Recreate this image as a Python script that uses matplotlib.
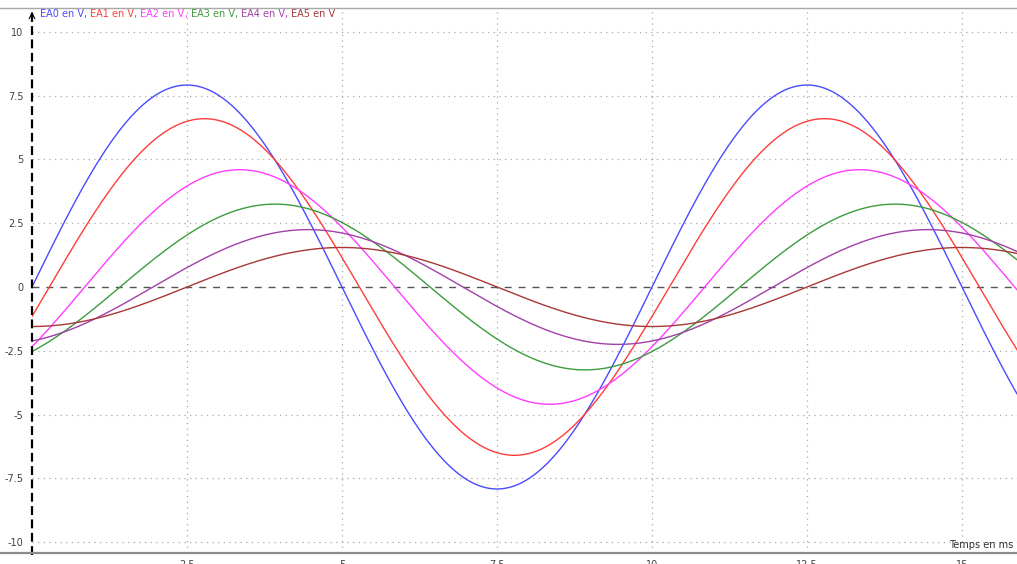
""" Tensions EA0..EA5 en fonction du temps """

import numpy as np
import matplotlib
matplotlib.use('Agg')
import matplotlib.pyplot as plt
from matplotlib.lines import Line2D


#!Voies mesurees : amplitude (V) et retard (ms) de chaque signal
voies = ['EA0', 'EA1', 'EA2', 'EA3', 'EA4', 'EA5']
amplitudes = [7.92, 6.6, 4.6, 3.25, 2.25, 1.55]
retards = [0.0, 0.28, 0.85, 1.42, 1.95, 2.5]
periode = 10.0
couleurs = ['#4a4aff', '#ff3c3c', '#ff3cff', '#3c9c3c', '#a040a8', '#a83838']

x_ticks = [2.5, 5, 7.5, 10, 12.5, 15]
x_labels = ['2.5', '5', '7.5', '10', '12.5', '15']
y_ticks = [-10, -7.5, -5, -2.5, 0, 2.5, 5, 7.5, 10]
y_labels = ['-10', '-7.5', '-5', '-2.5', '0', '2.5', '5', '7.5', '10']

t_max = 15.887
temps = np.linspace(0, t_max, 1200)


#!Figure et axes
W, H = 1017, 564
fig = plt.figure(figsize=(W / 100, H / 100), dpi=100)
ax = fig.add_axes([32 / W, (H - 553) / H, 1 - 32 / W, (553 - 8) / H])
ax.set_xlim(0, t_max)
ax.set_ylim(-10.43, 10.94)
for s in ax.spines.values():
    s.set_visible(False)

ax.set_xticks(x_ticks)
ax.set_xticklabels(x_labels)
ax.set_yticks(y_ticks)
ax.set_yticklabels(y_labels)
ax.tick_params(axis='both', length=0, labelsize=7, labelcolor='#404040')
ax.tick_params(axis='x', pad=5)
ax.tick_params(axis='y', pad=6)

#!Grille pointillee
for xv in x_ticks:
    ax.axvline(xv, color='#a8a8a8', lw=0.9, ls=(0, (1, 3.5)), zorder=0)
for yv in y_ticks:
    if yv != 0:
        ax.axhline(yv, color='#a8a8a8', lw=0.9, ls=(0, (1, 3.5)), zorder=0)
ax.axhline(0, color='#555555', lw=1.0, ls=(0, (5, 5)), zorder=1)

#!Axe vertical en tirets avec fleche
ax.plot([0, 0], [-10.5, 10.85], color='black', lw=1.6, ls=(0, (4, 2)),
        clip_on=False, zorder=3)
ax.annotate('', xy=(0, 10.9), xytext=(0, 10.3),
            arrowprops=dict(arrowstyle='->', color='black', lw=0.8))

#!Traits gris en haut et en bas
fig.add_artist(Line2D([0, 1], [(H - 8) / H] * 2, color='#a8a8a8', lw=1.0))
fig.add_artist(Line2D([0, 1], [(H - 553) / H] * 2, color='#8c8c8c', lw=1.6))

#!Courbes
for nom, a, r, c in zip(voies, amplitudes, retards, couleurs):
    v = a * np.sin(2 * np.pi * (temps - r) / periode)
    ax.plot(temps, v, color=c, lw=1.0, zorder=2)

#!Legende coloree
prec = fig.text(40 / W, (H - 14) / H, voies[0] + ' en V', color=couleurs[0],
                fontsize=7, va='center', ha='left')
for i in range(1, len(voies)):
    virg = ax.annotate(', ', xy=(1, 0), xycoords=prec, va='bottom', ha='left',
                       color=couleurs[i - 1], fontsize=7)
    prec = ax.annotate(voies[i] + ' en V', xy=(1, 0), xycoords=virg,
                       va='bottom', ha='left', color=couleurs[i], fontsize=7)

fig.text(1013 / W, (H - 545) / H, 'Temps en ms', ha='right', va='center',
         fontsize=7, color='#303030')

plt.savefig('out.png', dpi=100)
